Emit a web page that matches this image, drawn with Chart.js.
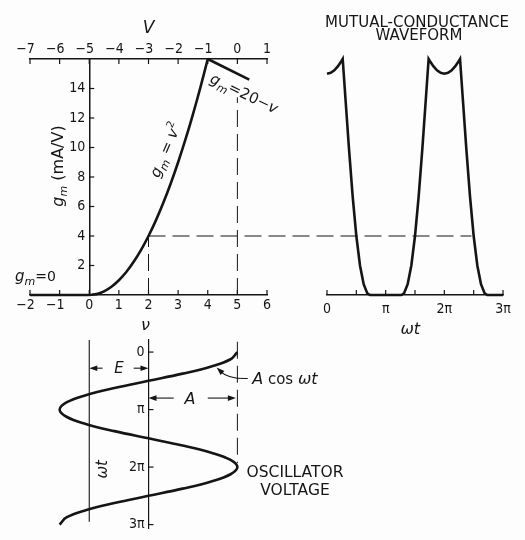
<!DOCTYPE html>
<html>
<head>
<meta charset="utf-8">
<title>Mutual-conductance waveform</title>
<script src="https://cdn.jsdelivr.net/npm/chart.js@4.4.3/dist/chart.umd.min.js"></script>
<style>
  html, body { margin: 0; padding: 0; background: #fdfdfd; }
  #stage { position: relative; width: 525px; height: 540px; overflow: hidden; }
  #stage canvas { position: absolute; left: 0; top: 0; }
</style>
</head>
<body>
<div id="stage">
  <canvas id="gmChart" width="525" height="540"></canvas>
  <canvas id="waveChart" width="525" height="540"></canvas>
  <canvas id="oscChart" width="525" height="540"></canvas>
</div>
<script>
// gm(v) characteristic, three regions
const vCut = [-2, 0];
const gmCut = [0, 0];
const vSquare = [0, 0.25, 0.5, 0.75, 1, 1.25, 1.5, 1.75, 2, 2.25, 2.5, 2.75, 3, 3.25, 3.5, 3.75, 4];
const gmSquare = [0, 0.06, 0.25, 0.56, 1, 1.56, 2.25, 3.06, 4, 5.06, 6.25, 7.56, 9, 10.56, 12.25, 14.06, 16];
const vLinear = [4, 5.4];
const gmLinear = [16, 14.6];

// dashed projection lines
const vDrop2 = [2, 2];
const gmDrop2 = [0, 4];
const vDrop5 = [5, 5];
const gmDrop5 = [0, 13.4];
const vLevel = [2, 12.9];
const gmLevel = [4, 4];

const vTicks = [-2, -1, 0, 1, 2, 3, 4, 5, 6];
const vGridTicks = [-7, -6, -5, -4, -3, -2, -1, 0, 1];
const gmTicks = [2, 4, 6, 8, 10, 12, 14];

// gm against wt (wt in multiples of pi)
const wtWave = [0, 0.0625, 0.125, 0.1875, 0.25, 0.2677, 0.3125, 0.375, 0.4375, 0.5, 0.5625, 0.625, 0.6875, 0.7323,
  1.2677, 1.3125, 1.375, 1.4375, 1.5, 1.5625, 1.625, 1.6875, 1.7323, 1.75, 1.8125, 1.875, 1.9375, 2,
  2.0625, 2.125, 2.1875, 2.25, 2.2677, 2.3125, 2.375, 2.4375, 2.5, 2.5625, 2.625, 2.6875, 2.7323, 3];
const gmWave = [15, 15.06, 15.23, 15.51, 15.88, 16, 13.44, 9.91, 6.69, 4, 2.0, 0.73, 0.11, 0,
  0, 0.11, 0.73, 2.0, 4, 6.69, 9.91, 13.44, 16, 15.88, 15.51, 15.23, 15.06, 15,
  15.06, 15.23, 15.51, 15.88, 16, 13.44, 9.91, 6.69, 4, 2.0, 0.73, 0.11, 0, 0];
const wtTicks = [0, 0.5, 1, 1.5, 2, 2.5, 3];
const wtTickLabels = ['0', '', 'π', '', '2π', '', '3π'];

// oscillator voltage v = E + A cos wt
const wtOsc = [0, 0.125, 0.25, 0.375, 0.5, 0.625, 0.75, 0.875, 1, 1.125, 1.25, 1.375, 1.5,
  1.625, 1.75, 1.875, 2, 2.125, 2.25, 2.375, 2.5, 2.625, 2.75, 2.875, 3];
const vOsc = [5, 4.77, 4.12, 3.15, 2, 0.85, -0.12, -0.77, -1, -0.77, -0.12, 0.85, 2,
  3.15, 4.12, 4.77, 5, 4.77, 4.12, 3.15, 2, 0.85, -0.12, -0.77, -1];
const vZeroLine = [0, 0];
const wtZeroLine = [-0.21, 2.95];
const vPeakLine = [5, 5];
const wtPeakLine = [-0.18, 1.93];
const phaseTicks = [0, 1, 2, 3];
const phaseLabels = ['0', 'π', '2π', '3π'];

const ink = '#151515';
const SANS = '"DejaVu Sans", sans-serif';
const COND = '"DejaVu Sans Condensed", "DejaVu Sans", sans-serif';
const tickFont = { family: COND, size: 14 };
const PAD = '\u2002\u2009';

const pts = (xs, ys) => xs.map((x, i) => ({ x, y: ys[i] }));
const signed = v => (v < 0 ? '\u2212' + (-v) + PAD : String(v));
const it = s => `italic ${s}px ${SANS}`;
const up = s => `${s}px ${SANS}`;

function solid(xs, ys, width, tension = 0) {
  return { data: pts(xs, ys), showLine: true, borderColor: ink, borderWidth: width,
    pointRadius: 0, tension, clip: false };
}
function dashed(xs, ys) {
  return { data: pts(xs, ys), showLine: true, borderColor: ink, borderWidth: 1,
    borderDash: [17, 7], pointRadius: 0, clip: false };
}
function axis(min, max, position, tickValues, extra = {}) {
  return Object.assign({
    type: 'linear', min, max, position,
    grid: { display: false, drawTicks: false },
    border: { display: true, color: ink, width: 1.5 },
    afterBuildTicks: s => { s.ticks = tickValues.map(value => ({ value })); },
  }, extra);
}

// short tick marks drawn on the inside of each axis
const innerTicks = {
  id: 'innerTicks',
  afterDraw(chart, args, opts) {
    const { ctx } = chart;
    ctx.save();
    ctx.strokeStyle = ink;
    ctx.lineWidth = 1.2;
    for (const m of opts.marks || []) {
      const s = chart.scales[m.scale];
      const at = chart.scales[m.cross].getPixelForValue(m.at);
      for (const t of s.ticks) {
        const p = s.getPixelForValue(t.value);
        ctx.beginPath();
        if (s.isHorizontal()) { ctx.moveTo(p, at); ctx.lineTo(p, at + m.len); }
        else { ctx.moveTo(at, p); ctx.lineTo(at + m.len, p); }
        ctx.stroke();
      }
    }
    ctx.restore();
  }
};

// text made of runs in different fonts, optionally rotated
function runs(ctx, x, y, angle, parts, align = 'center') {
  ctx.save();
  ctx.translate(x, y);
  ctx.rotate(angle);
  ctx.fillStyle = ink;
  ctx.textAlign = 'left';
  ctx.textBaseline = 'alphabetic';
  let w = 0;
  for (const r of parts) { ctx.font = r.font; w += ctx.measureText(r.text).width; }
  let cx = align === 'left' ? 0 : -w / 2;
  for (const r of parts) {
    ctx.font = r.font;
    ctx.fillText(r.text, cx, r.dy || 0);
    cx += ctx.measureText(r.text).width;
  }
  ctx.restore();
}
const gm = (size, rest) => [
  { text: 'g', font: it(size) },
  { text: 'm', font: it(Math.round(size * 0.7)), dy: size * 0.28 },
  ...rest
];
function arrow(ctx, x1, y1, x2, y2) {
  const a = Math.atan2(y2 - y1, x2 - x1);
  ctx.beginPath();
  ctx.moveTo(x1, y1);
  ctx.lineTo(x2 - 5 * Math.cos(a), y2 - 5 * Math.sin(a));
  ctx.stroke();
  ctx.beginPath();
  ctx.moveTo(x2, y2);
  ctx.lineTo(x2 - 8 * Math.cos(a) + 2.8 * Math.sin(a), y2 - 8 * Math.sin(a) - 2.8 * Math.cos(a));
  ctx.lineTo(x2 - 8 * Math.cos(a) - 2.8 * Math.sin(a), y2 - 8 * Math.sin(a) + 2.8 * Math.cos(a));
  ctx.closePath();
  ctx.fill();
}
const notes = draw => ({ id: 'notes', afterDraw(chart) { draw(chart.ctx, chart.scales); } });

const base = {
  responsive: false,
  maintainAspectRatio: false,
  animation: false,
  events: [],
};

// gm against grid voltage
new Chart(document.getElementById('gmChart'), {
  type: 'scatter',
  data: {
    datasets: [
      solid(vCut, gmCut, 2.6),
      solid(vSquare, gmSquare, 2.6, 0.3),
      solid(vLinear, gmLinear, 2.6),
      dashed(vDrop2, gmDrop2),
      dashed(vDrop5, gmDrop5),
      dashed(vLevel, gmLevel),
    ]
  },
  options: {
    ...base,
    layout: { padding: { left: 30, right: 258, top: 59, bottom: 245 } },
    scales: {
      x: axis(-2, 6, { y: 0 }, vTicks, {
        ticks: { color: ink, font: tickFont, padding: 2, autoSkip: false, maxRotation: 0, callback: v => signed(v) }
      }),
      xTop: axis(-7, 1, { y: 16 }, vGridTicks, {
        axis: 'x',
        ticks: { color: ink, font: tickFont, padding: -18, autoSkip: false, maxRotation: 0, callback: v => signed(v) }
      }),
      y: axis(0, 16, { x: 0 }, gmTicks, {
        ticks: { color: ink, font: tickFont, autoSkip: false, callback: v => v + ' ' }
      }),
    },
    plugins: {
      legend: { display: false },
      tooltip: { enabled: false },
      innerTicks: { marks: [
        { scale: 'x', cross: 'y', at: 0, len: -5 },
        { scale: 'xTop', cross: 'y', at: 16, len: 5 },
        { scale: 'y', cross: 'x', at: 0, len: 5 },
      ] },
    }
  },
  plugins: [innerTicks, notes((ctx, s) => {
    runs(ctx, s.xTop.getPixelForValue(-3), 33, 0, [{ text: 'V', font: it(17) }]);
    runs(ctx, 63, 166, -Math.PI / 2, gm(16, [{ text: ' (mA/V)', font: up(16) }]));
    runs(ctx, 15, 281, 0, gm(15, [{ text: '=0', font: up(14) }]), 'left');
    runs(ctx, 170, 152, -1.17, gm(15, [
      { text: ' = ', font: up(15) }, { text: 'v', font: it(15) }, { text: '2', font: up(10), dy: -7 }
    ]));
    runs(ctx, 209, 82, 0.45, gm(15, [
      { text: '=20\u2212', font: up(15) }, { text: 'v', font: it(15) }
    ]), 'left');
    runs(ctx, s.x.getPixelForValue(1.9), 330, 0, [{ text: 'ν', font: it(16) }]);
  })]
});

// mutual-conductance waveform
new Chart(document.getElementById('waveChart'), {
  type: 'scatter',
  data: { datasets: [solid(wtWave, gmWave, 2.6)] },
  options: {
    ...base,
    layout: { padding: { left: 327, right: 22, top: 59, bottom: 245 } },
    scales: {
      x: axis(0, 3, { y: 0 }, wtTicks, {
        ticks: { color: ink, font: tickFont, padding: 6, autoSkip: false, maxRotation: 0,
          callback: (v, i) => wtTickLabels[i] }
      }),
      y: { type: 'linear', min: 0, max: 16, display: false },
    },
    plugins: {
      legend: { display: false },
      tooltip: { enabled: false },
      innerTicks: { marks: [{ scale: 'x', cross: 'y', at: 0, len: -5 }] },
    }
  },
  plugins: [innerTicks, notes((ctx, s) => {
    runs(ctx, 417, 27, 0, [{ text: 'MUTUAL-CONDUCTANCE', font: up(15) }]);
    runs(ctx, 419, 40, 0, [{ text: 'WAVEFORM', font: up(15) }]);
    runs(ctx, s.x.getPixelForValue(1.42), 334, 0, [{ text: 'ωt', font: it(16) }]);
  })]
});

// oscillator voltage against wt
new Chart(document.getElementById('oscChart'), {
  type: 'scatter',
  data: {
    datasets: [
      solid(vOsc, wtOsc, 2.6, 0.4),
      solid(vZeroLine, wtZeroLine, 1.1),
      dashed(vPeakLine, wtPeakLine),
    ]
  },
  options: {
    ...base,
    layout: { padding: { left: 30, right: 258, top: 340, bottom: 0 } },
    scales: {
      x: { type: 'linear', min: -2, max: 6, display: false },
      y: axis(-0.21, 3.07, { x: 2 }, phaseTicks, {
        reverse: true,
        border: { display: true, color: ink, width: 1.2 },
        ticks: { color: ink, font: tickFont, autoSkip: false, callback: (v, i) => phaseLabels[i] + ' ' }
      }),
    },
    plugins: {
      legend: { display: false },
      tooltip: { enabled: false },
      innerTicks: { marks: [{ scale: 'y', cross: 'x', at: 2, len: 5 }] },
    }
  },
  plugins: [innerTicks, notes((ctx, s) => {
    const X = v => s.x.getPixelForValue(v);
    const Y = w => s.y.getPixelForValue(w);
    ctx.save();
    ctx.strokeStyle = ink;
    ctx.fillStyle = ink;
    ctx.lineWidth = 1.1;
    arrow(ctx, X(0.45), Y(0.28), X(0), Y(0.28));
    arrow(ctx, X(1.5), Y(0.28), X(2), Y(0.28));
    arrow(ctx, X(2.85), Y(0.8), X(2), Y(0.8));
    arrow(ctx, X(4.0), Y(0.8), X(4.95), Y(0.8));
    // leader to the cosine curve
    const tx = X(4.3), ty = Y(0.27);
    const cx = X(4.7), cy = Y(0.47);
    ctx.beginPath();
    ctx.moveTo(X(5.35), Y(0.46));
    ctx.quadraticCurveTo(cx, cy, tx + 4, ty + 4);
    ctx.stroke();
    arrow(ctx, cx - 6, cy - 6, tx, ty);
    ctx.restore();
    runs(ctx, X(1.0), Y(0.28) + 5, 0, [{ text: 'E', font: it(15) }]);
    runs(ctx, X(3.4), Y(0.8) + 5.5, 0, [{ text: 'A', font: it(16) }]);
    runs(ctx, X(5.5), Y(0.46) + 5.5, 0, [
      { text: 'A', font: it(16) }, { text: ' cos ', font: up(15) }, { text: 'ωt', font: it(16) }
    ], 'left');
    runs(ctx, X(0.6), Y(2.04), -Math.PI / 2, [{ text: 'ωt', font: it(15) }]);
    runs(ctx, 295, 477, 0, [{ text: 'OSCILLATOR', font: up(15.5) }]);
    runs(ctx, 295, 495, 0, [{ text: 'VOLTAGE', font: up(15.5) }]);
  })]
});
</script>
</body>
</html>
